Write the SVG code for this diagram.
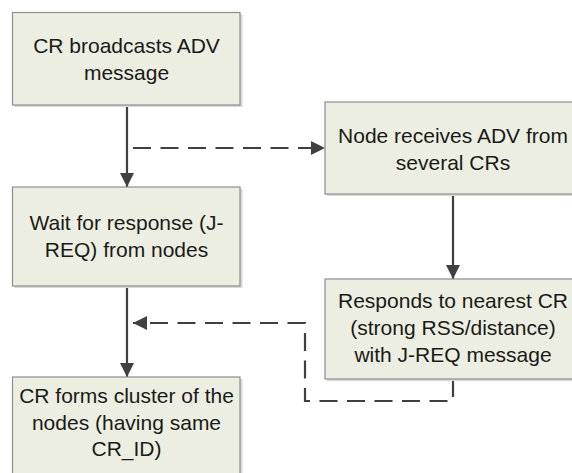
<svg xmlns="http://www.w3.org/2000/svg" width="572" height="473" viewBox="0 0 572 473">
<style>
.box{fill:#ECEEE1;stroke:#8E8E8E;stroke-width:1.2}
.sh{fill:#D9D9D9}
.t{font-family:"Liberation Sans",Arial,sans-serif;font-size:21px;fill:#1A1A1A;text-anchor:middle}
.ln{stroke:#404040;stroke-width:2.2;fill:none}
.dash{stroke:#404040;stroke-width:2.2;fill:none;stroke-dasharray:18 9.5}
</style>
<defs>
<marker id="ah" markerWidth="14" markerHeight="14" refX="14" refY="7" orient="auto" markerUnits="userSpaceOnUse">
<path d="M0,0 L14,7 L0,14 Z" fill="#404040"/>
</marker>
</defs>
<rect width="572" height="473" fill="#FFFFFF"/>
<g id="connectors">
<line class="ln" x1="127" y1="105" x2="127" y2="187" marker-end="url(#ah)"/>
<line class="dash" x1="133" y1="148" x2="325" y2="148" marker-end="url(#ah)"/>
<line class="ln" x1="453" y1="194" x2="453" y2="279" marker-end="url(#ah)"/>
<line class="ln" x1="127" y1="286" x2="127" y2="377" marker-end="url(#ah)"/>
<polyline class="dash" points="453,379 453,401 305,401 305,323 133,323" marker-end="url(#ah)"/>
</g>
<g id="n1">
<rect class="sh" x="14.5" y="14.5" width="228" height="92.5"/>
<rect class="box" x="12.5" y="12.5" width="227.5" height="92.5"/>
<text class="t" x="126.5" y="53">CR broadcasts ADV</text>
<text class="t" x="126.5" y="80">message</text>
</g>
<g id="n2">
<rect class="sh" x="14.5" y="189" width="228" height="99"/>
<rect class="box" x="12.5" y="187" width="227.5" height="99"/>
<text class="t" x="126.5" y="230">Wait for response (J-</text>
<text class="t" x="126.5" y="257">REQ) from nodes</text>
</g>
<g id="n3">
<rect class="sh" x="327" y="104" width="256" height="92"/>
<rect class="box" x="325" y="102" width="256" height="92"/>
<text class="t" x="453" y="143">Node receives ADV from</text>
<text class="t" x="453" y="170">several CRs</text>
</g>
<g id="n4">
<rect class="sh" x="327" y="281" width="256" height="100"/>
<rect class="box" x="325" y="279" width="256" height="100"/>
<text class="t" x="453" y="308">Responds to nearest CR</text>
<text class="t" x="453" y="335">(strong RSS/distance)</text>
<text class="t" x="453" y="362">with J-REQ message</text>
</g>
<g id="n5">
<rect class="sh" x="14.5" y="379" width="228" height="110"/>
<rect class="box" x="12.5" y="377" width="227.5" height="110"/>
<text class="t" x="126.5" y="403">CR forms cluster of the</text>
<text class="t" x="126.5" y="430">nodes (having same</text>
<text class="t" x="126.5" y="456">CR_ID)</text>
</g>
</svg>
